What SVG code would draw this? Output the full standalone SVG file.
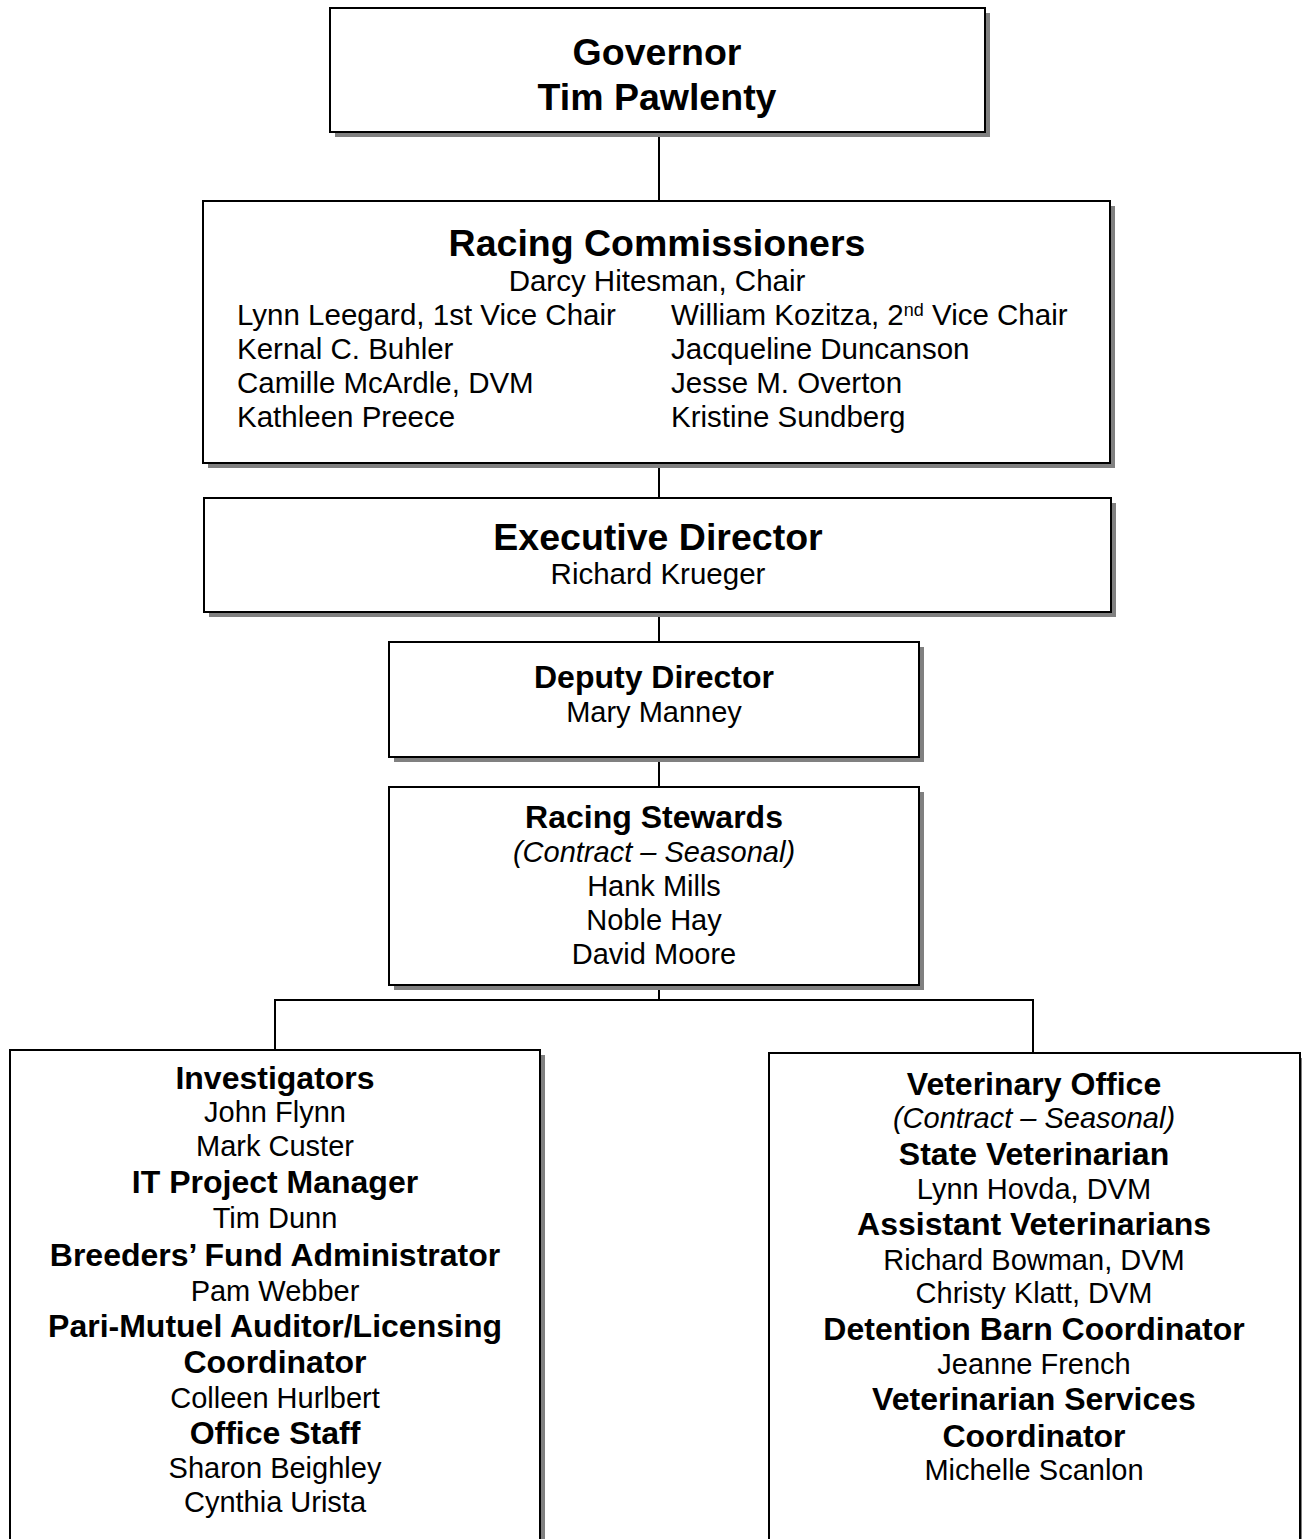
<svg xmlns="http://www.w3.org/2000/svg" width="1302" height="1539" viewBox="0 0 1302 1539">
<style>
.box{fill:#fff;stroke:#000;stroke-width:2}
.sh{fill:#808080}
.ln{stroke:#000;stroke-width:2;fill:none}
text{font-family:"Liberation Sans",Arial,sans-serif;fill:#000}
.t1{font-size:37.5px;font-weight:bold;text-anchor:middle}
.b{font-size:32px;font-weight:bold;text-anchor:middle}
.r{font-size:29px;text-anchor:middle}
.rt{font-size:29.5px;text-anchor:middle}
.rl{font-size:29.5px}
.i{font-size:29px;font-style:italic;text-anchor:middle}
</style>
<rect width="1302" height="1539" fill="#fff"/>
<g id="connectors">
<line class="ln" x1="659" y1="132" x2="659" y2="201"/>
<line class="ln" x1="659" y1="463" x2="659" y2="498"/>
<line class="ln" x1="659" y1="612" x2="659" y2="642"/>
<line class="ln" x1="659" y1="757" x2="659" y2="787"/>
<line class="ln" x1="659" y1="985" x2="659" y2="1000"/>
<line class="ln" x1="274" y1="1000" x2="1034" y2="1000"/>
<line class="ln" x1="275" y1="1000" x2="275" y2="1050"/>
<line class="ln" x1="1033" y1="1000" x2="1033" y2="1053"/>
</g>
<g id="governor">
<rect class="sh" x="335" y="13" width="655" height="124"/>
<rect class="box" x="330" y="8" width="655" height="124"/>
<text class="t1" x="657" y="65">Governor</text>
<text class="t1" x="657" y="110">Tim Pawlenty</text>
</g>
<g id="commissioners">
<rect class="sh" x="208" y="206" width="907" height="262"/>
<rect class="box" x="203" y="201" width="907" height="262"/>
<text class="t1" x="657" y="256">Racing Commissioners</text>
<text class="rt" x="657" y="291">Darcy Hitesman, Chair</text>
<text class="rl" x="237" y="325">Lynn Leegard, 1st Vice Chair</text>
<text class="rl" x="237" y="359">Kernal C. Buhler</text>
<text class="rl" x="237" y="393">Camille McArdle, DVM</text>
<text class="rl" x="237" y="427">Kathleen Preece</text>
<text class="rl" x="671" y="325">William Kozitza, 2<tspan font-size="18" baseline-shift="9">nd</tspan> Vice Chair</text>
<text class="rl" x="671" y="359">Jacqueline Duncanson</text>
<text class="rl" x="671" y="393">Jesse M. Overton</text>
<text class="rl" x="671" y="427">Kristine Sundberg</text>
</g>
<g id="executive-director">
<rect class="sh" x="209" y="503" width="907" height="114"/>
<rect class="box" x="204" y="498" width="907" height="114"/>
<text class="t1" x="658" y="550">Executive Director</text>
<text class="rt" x="658" y="584">Richard Krueger</text>
</g>
<g id="deputy-director">
<rect class="sh" x="394" y="647" width="530" height="115"/>
<rect class="box" x="389" y="642" width="530" height="115"/>
<text class="b" x="654" y="688">Deputy Director</text>
<text class="r" x="654" y="722">Mary Manney</text>
</g>
<g id="racing-stewards">
<rect class="sh" x="394" y="792" width="530" height="198"/>
<rect class="box" x="389" y="787" width="530" height="198"/>
<text class="b" x="654" y="828">Racing Stewards</text>
<text class="i" x="654" y="862">(Contract – Seasonal)</text>
<text class="r" x="654" y="896">Hank Mills</text>
<text class="r" x="654" y="930">Noble Hay</text>
<text class="r" x="654" y="964">David Moore</text>
</g>
<g id="left-staff">
<rect class="sh" x="15" y="1055" width="530" height="500"/>
<rect class="box" x="10" y="1050" width="530" height="500"/>
<text class="b" x="275" y="1089">Investigators</text>
<text class="r" x="275" y="1122">John Flynn</text>
<text class="r" x="275" y="1156">Mark Custer</text>
<text class="b" x="275" y="1193">IT Project Manager</text>
<text class="r" x="275" y="1228">Tim Dunn</text>
<text class="b" x="275" y="1266">Breeders’ Fund Administrator</text>
<text class="r" x="275" y="1301">Pam Webber</text>
<text class="b" x="275" y="1337">Pari-Mutuel Auditor/Licensing</text>
<text class="b" x="275" y="1373">Coordinator</text>
<text class="r" x="275" y="1408">Colleen Hurlbert</text>
<text class="b" x="275" y="1444">Office Staff</text>
<text class="r" x="275" y="1478">Sharon Beighley</text>
<text class="r" x="275" y="1512">Cynthia Urista</text>
</g>
<g id="veterinary-office">
<rect class="sh" x="774" y="1058" width="530" height="500"/>
<rect class="box" x="769" y="1053" width="531" height="500"/>
<text class="b" x="1034" y="1095">Veterinary Office</text>
<text class="i" x="1034" y="1128">(Contract – Seasonal)</text>
<text class="b" x="1034" y="1165">State Veterinarian</text>
<text class="r" x="1034" y="1199">Lynn Hovda, DVM</text>
<text class="b" x="1034" y="1235">Assistant Veterinarians</text>
<text class="r" x="1034" y="1270">Richard Bowman, DVM</text>
<text class="r" x="1034" y="1303">Christy Klatt, DVM</text>
<text class="b" x="1034" y="1340">Detention Barn Coordinator</text>
<text class="r" x="1034" y="1374">Jeanne French</text>
<text class="b" x="1034" y="1410">Veterinarian Services</text>
<text class="b" x="1034" y="1447">Coordinator</text>
<text class="r" x="1034" y="1480">Michelle Scanlon</text>
</g>
</svg>
